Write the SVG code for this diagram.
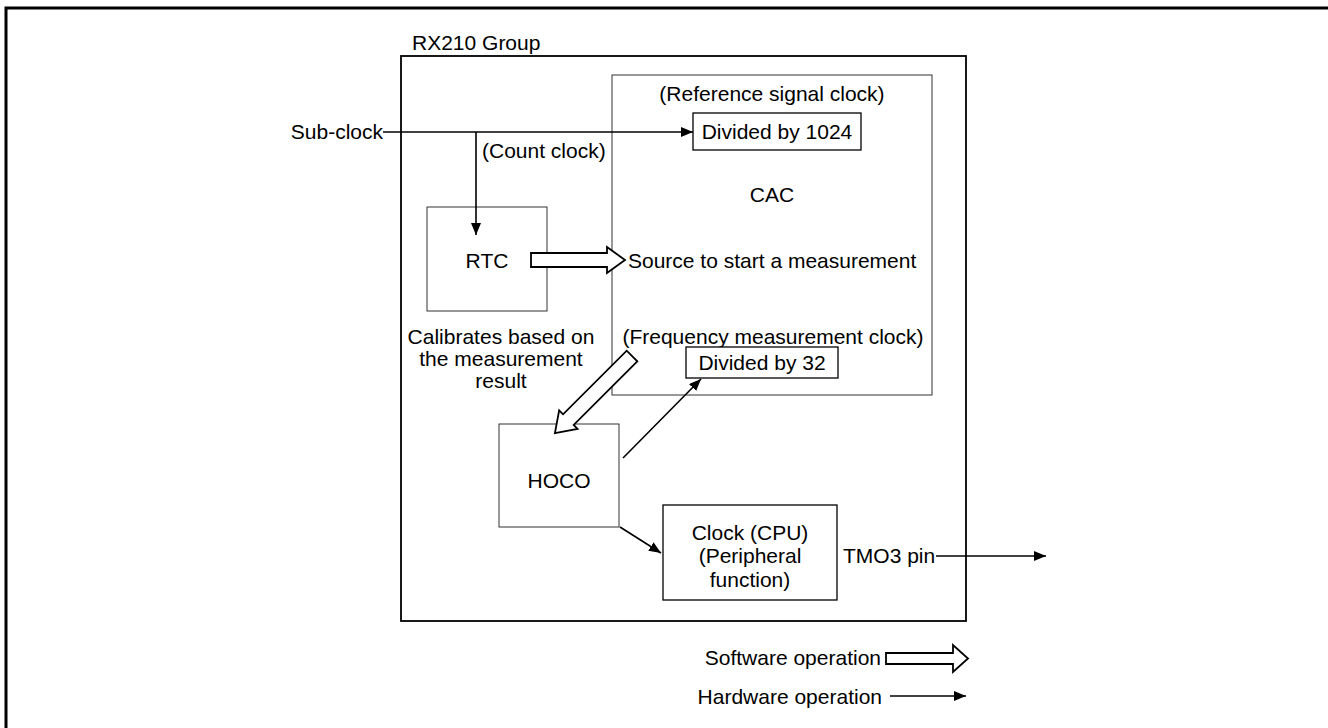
<svg xmlns="http://www.w3.org/2000/svg" width="1328" height="728" viewBox="0 0 1328 728">
  <style>
    text { font-family: "Liberation Sans", Arial, sans-serif; font-size: 21px; fill: #000; }
    .mid { text-anchor: middle; }
    .end { text-anchor: end; }
    .box { fill: #fff; stroke: #000; stroke-width: 1.3; }
    .thin { fill: none; stroke: #333; stroke-width: 1; }
    .wire { fill: none; stroke: #000; stroke-width: 1.6; }
    .hollow { fill: #fff; stroke: #000; stroke-width: 1.8; stroke-linejoin: miter; }
  </style>
  <defs>
    <marker id="head" viewBox="0 0 12 10" refX="12" refY="5" markerWidth="12" markerHeight="10" markerUnits="userSpaceOnUse" orient="auto">
      <path d="M0,0 L12,5 L0,10 Z" fill="#000"/>
    </marker>
  </defs>

  <rect width="1328" height="728" fill="#fff"/>

  <!-- page frame -->
  <path d="M6,740 V8 H1340" fill="none" stroke="#000" stroke-width="3"/>

  <!-- device boundary -->
  <g id="rx210">
    <rect x="401" y="56" width="565" height="565" fill="none" stroke="#000" stroke-width="1.8"/>
    <text x="412" y="50">RX210 Group</text>
  </g>

  <!-- clock accuracy circuit -->
  <g id="cac">
    <rect x="612" y="75" width="320" height="320" class="thin"/>
    <text x="772" y="101" class="mid">(Reference signal clock)</text>
    <text x="772" y="202" class="mid">CAC</text>
    <text x="628" y="268">Source to start a measurement</text>
    <text x="773" y="344" class="mid">(Frequency measurement clock)</text>
  </g>

  <g id="div1024">
    <rect x="693" y="113" width="168" height="37" class="box"/>
    <text x="777" y="139" class="mid">Divided by 1024</text>
  </g>

  <g id="div32">
    <rect x="686" y="347" width="152" height="31" class="box"/>
    <text x="762" y="370" class="mid">Divided by 32</text>
  </g>

  <g id="rtc">
    <rect x="427" y="207" width="120" height="104" class="thin"/>
    <text x="487" y="268" class="mid">RTC</text>
  </g>

  <g id="calib-note">
    <text x="501" y="344" class="mid">Calibrates based on</text>
    <text x="501" y="366" class="mid">the measurement</text>
    <text x="501" y="388" class="mid">result</text>
  </g>

  <g id="hoco">
    <rect x="499" y="424" width="120" height="103" class="thin"/>
    <text x="559" y="488" class="mid">HOCO</text>
  </g>

  <g id="clock">
    <rect x="663" y="505" width="174" height="95" class="box"/>
    <text x="750" y="540" class="mid">Clock (CPU)</text>
    <text x="750" y="563" class="mid">(Peripheral</text>
    <text x="750" y="587" class="mid">function)</text>
  </g>

  <g id="labels">
    <text x="383" y="139" class="end">Sub-clock</text>
    <text x="482" y="158">(Count clock)</text>
    <text x="843" y="563">TMO3 pin</text>
  </g>

  <!-- signal paths -->
  <g id="connectors">
    <path d="M383,132 H693" class="wire" marker-end="url(#head)"/>
    <path d="M476,132 V235" class="wire" marker-end="url(#head)"/>
    <path d="M623,458 L701,379" class="wire" marker-end="url(#head)"/>
    <path d="M620,527 L661,553" class="wire" marker-end="url(#head)"/>
    <path d="M936,556 H1046" class="wire" marker-end="url(#head)"/>
    <!-- software operations (hollow arrows) -->
    <polygon points="531,253 607,253 607,247 625,260 607,273 607,267 531,267" class="hollow"/>
    <polygon transform="translate(632,356) rotate(135)" points="0,-7.5 90,-7.5 90,-13 109,0 90,13 90,7.5 0,7.5" class="hollow"/>
  </g>

  <!-- legend -->
  <g id="legend">
    <text x="881" y="665" class="end">Software operation</text>
    <polygon points="886,653 953,653 953,645 968,658.5 953,672 953,664 886,664" class="hollow"/>
    <text x="882" y="704" class="end">Hardware operation</text>
    <path d="M890,696 H966" class="wire" marker-end="url(#head)"/>
  </g>
</svg>
